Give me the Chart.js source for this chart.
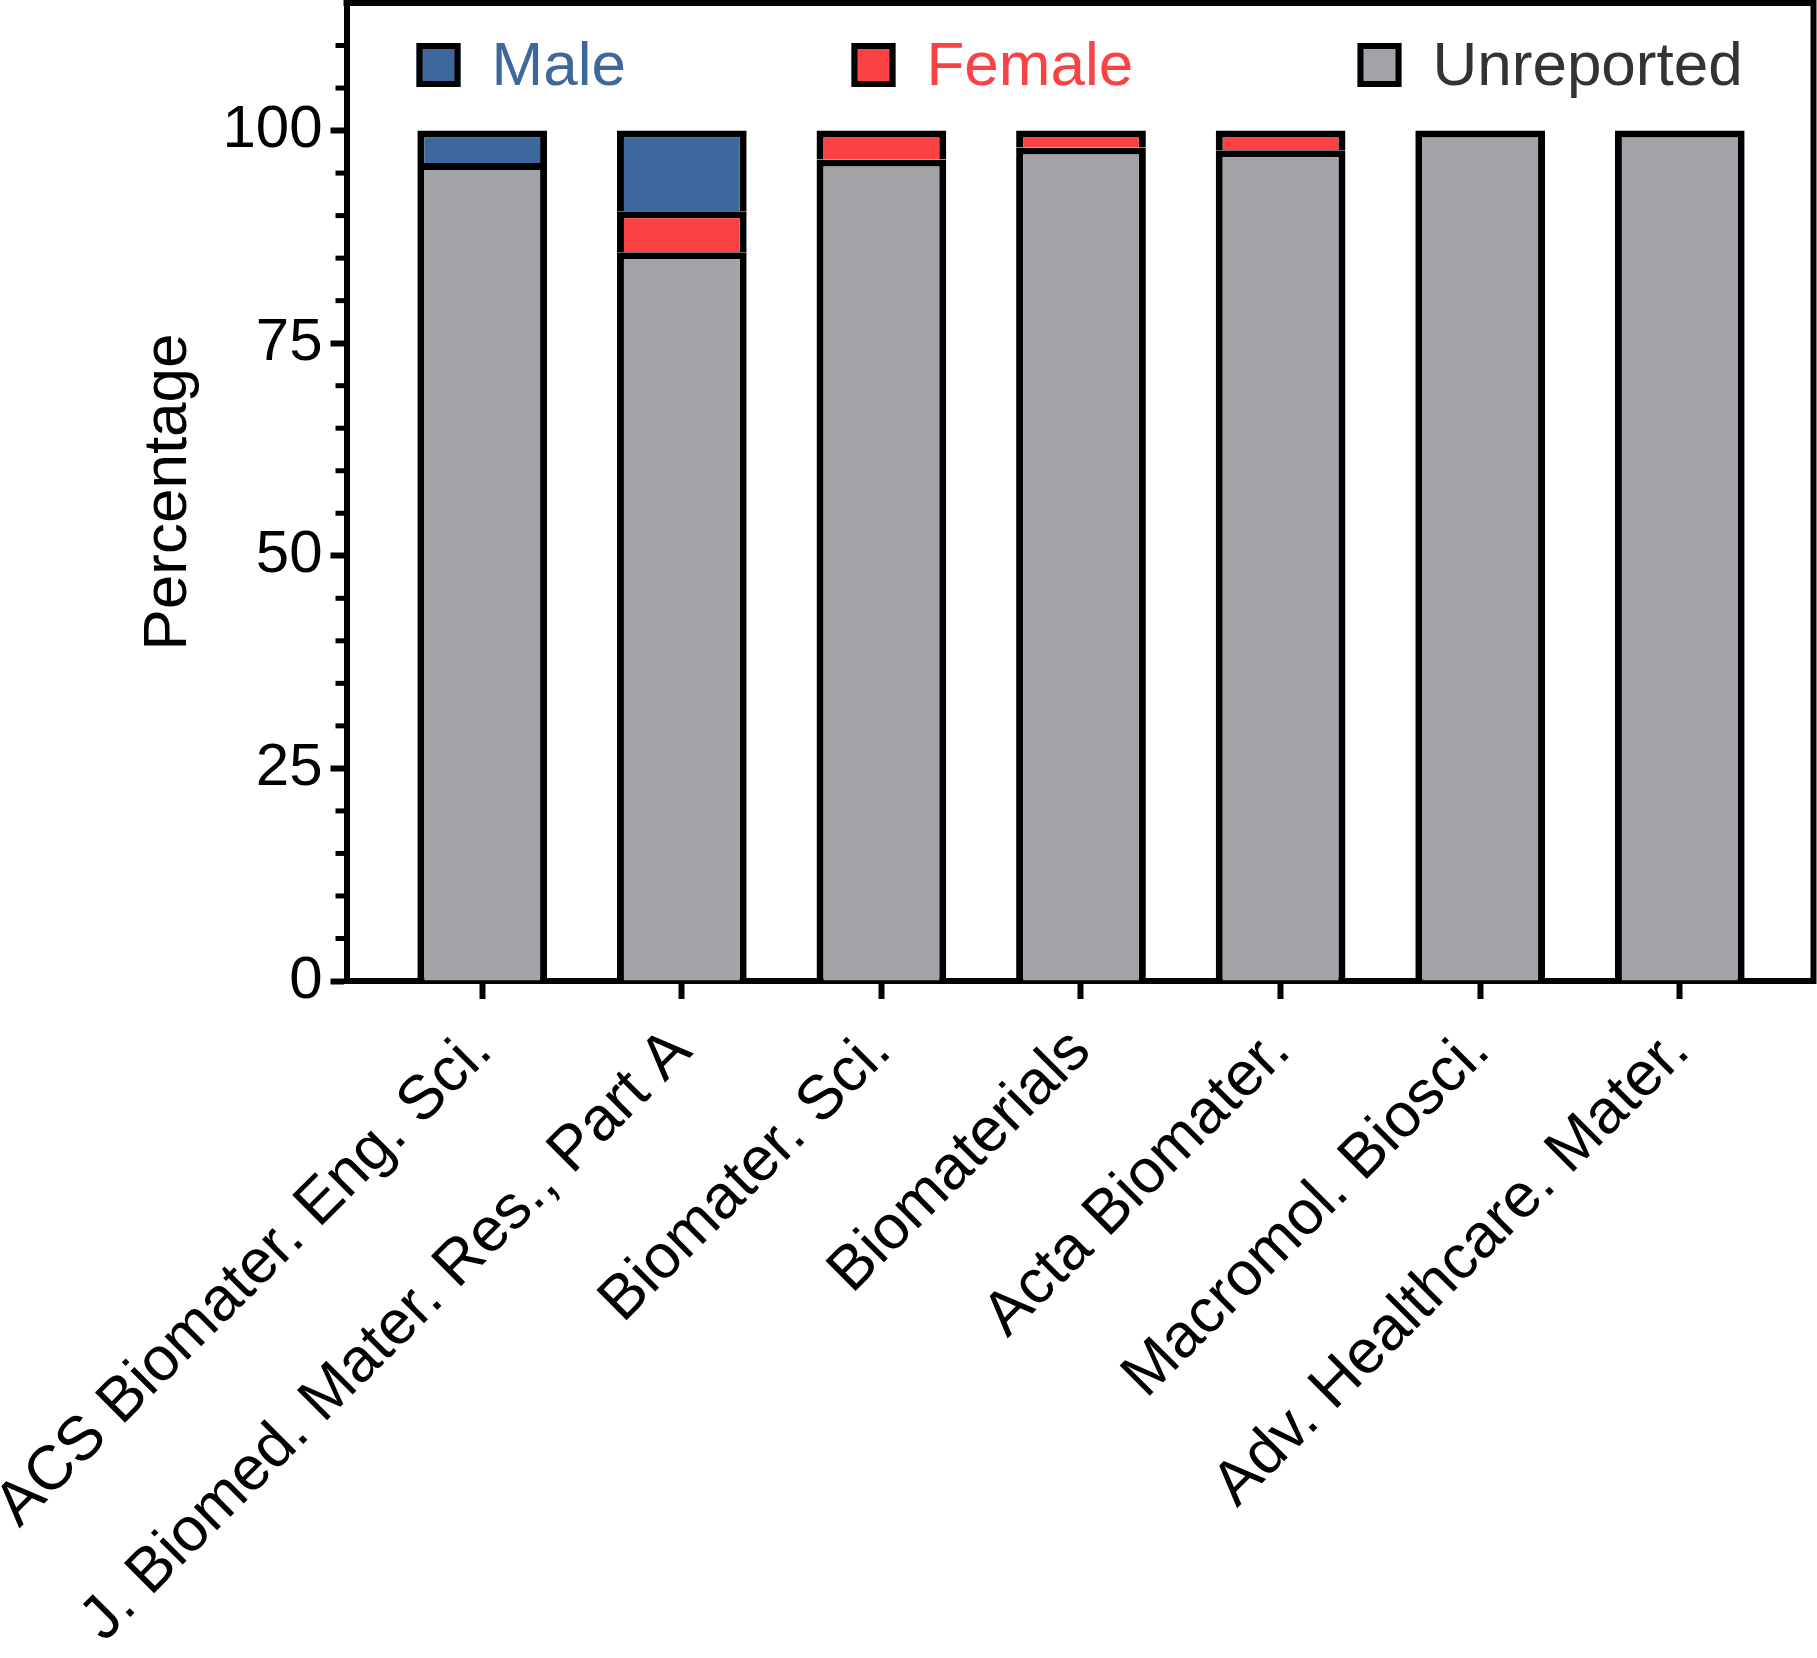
<!DOCTYPE html>
<html>
<head>
<meta charset="utf-8">
<script src="https://cdn.jsdelivr.net/npm/chart.js@4.4.1/dist/chart.umd.min.js"></script>
<style>
  html, body { margin: 0; padding: 0; background: #fff; }
  #wrap { width: 1817px; height: 1658px; position: relative; }
</style>
</head>
<body>
<div id="wrap"><canvas id="chart"></canvas></div>
<script>
// --- Data ---
const categories = [
    'ACS Biomater. Eng. Sci.',
    'J. Biomed. Mater. Res., Part A',
    'Biomater. Sci.',
    'Biomaterials',
    'Acta Biomater.',
    'Macromol. Biosci.',
    'Adv. Healthcare. Mater.'
];
const maleValues = [3.8, 9.5, 0, 0, 0, 0, 0];
const femaleValues = [0, 4.8, 3.4, 2.0, 2.3, 0, 0];
const unreportedValues = [96.2, 85.7, 96.6, 98.0, 97.7, 100, 100];
const yMajorTicks = [0, 25, 50, 75, 100];
const yMinorTicks = [5, 10, 15, 20, 30, 35, 40, 45, 55, 60, 65, 70, 80, 85, 90, 95, 105, 110];

const BLUE = '#3e689d';
const RED = '#fa4245';
const GREY = '#a3a2a7';
const FONT = '"Liberation Sans", Arial, sans-serif';

function toPoints(values) {
    return values.map((v, i) => ({ x: i, y: v }));
}

// legend drawn inside the plot, plus minor ticks and the frame
const extrasPlugin = {
    id: 'extras',
    afterDraw(chart) {
        const ctx = chart.ctx;
        const area = chart.chartArea;
        const y = chart.scales.y;
        ctx.save();
        ctx.strokeStyle = '#000';

        // minor ticks on the y axis
        ctx.lineWidth = 5;
        yMinorTicks.forEach(v => {
            const py = y.getPixelForValue(v);
            ctx.beginPath();
            ctx.moveTo(area.left - 11, py);
            ctx.lineTo(area.left, py);
            ctx.stroke();
        });

        // top and right frame lines
        ctx.lineWidth = 6;
        ctx.beginPath();
        ctx.moveTo(area.left - 3, area.top);
        ctx.lineTo(area.right, area.top);
        ctx.lineTo(area.right, area.bottom + 3);
        ctx.stroke();

        // legend
        const items = [
            { text: 'Male', fill: BLUE, color: BLUE, dx: 70 },
            { text: 'Female', fill: RED, color: RED, dx: 505 },
            { text: 'Unreported', fill: GREY, color: '#333333', dx: 1011 }
        ];
        const box = 44;
        const top = area.top + 40;
        ctx.font = '62px ' + FONT;
        ctx.textBaseline = 'middle';
        ctx.textAlign = 'left';
        items.forEach(it => {
            const bx = area.left + it.dx;
            ctx.fillStyle = it.fill;
            ctx.fillRect(bx, top, box, box);
            ctx.lineWidth = 6;
            ctx.strokeStyle = '#000';
            ctx.strokeRect(bx + 3, top + 3, box - 6, box - 6);
            ctx.fillStyle = it.color;
            ctx.fillText(it.text, bx + box + 31, top + box / 2 + 3);
        });
        ctx.restore();
    }
};

const ctx = document.getElementById('chart').getContext('2d');
new Chart(ctx, {
    type: 'bar',
    data: {
        datasets: [
            { label: 'Unreported', data: toPoints(unreportedValues), backgroundColor: GREY },
            { label: 'Female', data: toPoints(femaleValues), backgroundColor: RED },
            { label: 'Male', data: toPoints(maleValues), backgroundColor: BLUE }
        ]
    },
    options: {
        responsive: true,
        maintainAspectRatio: false,
        animation: false,
        events: [],
        layout: { padding: { top: 3, right: 3.5, left: 0, bottom: 0 } },
        datasets: {
            bar: {
                borderColor: '#000',
                borderWidth: 7,
                barPercentage: 0.65,
                categoryPercentage: 1
            }
        },
        plugins: {
            legend: { display: false },
            tooltip: { enabled: false }
        },
        scales: {
            x: {
                type: 'linear',
                stacked: true,
                offset: false,
                min: -0.68,
                max: 6.67,
                afterBuildTicks: scale => {
                    scale.ticks = categories.map((c, i) => ({ value: i }));
                },
                afterFit: scale => {
                    scale.height = 677;
                    scale.paddingLeft = 0;
                    scale.paddingRight = 0;
                },
                grid: {
                    offset: false,
                    drawOnChartArea: false,
                    drawTicks: true,
                    tickLength: 18,
                    tickWidth: 6,
                    tickColor: '#000'
                },
                border: { display: true, width: 6, color: '#000' },
                ticks: {
                    autoSkip: false,
                    maxRotation: 45,
                    minRotation: 45,
                    padding: 16,
                    color: '#000',
                    font: { family: FONT, size: 62 },
                    callback: v => categories[v]
                }
            },
            y: {
                stacked: true,
                min: 0,
                max: 115,
                afterBuildTicks: scale => {
                    scale.ticks = yMajorTicks.map(v => ({ value: v }));
                },
                afterFit: scale => {
                    scale.width = 346.5;
                    scale.paddingTop = 0;
                    scale.paddingBottom = 0;
                },
                grid: {
                    drawOnChartArea: false,
                    drawTicks: true,
                    tickLength: 16,
                    tickWidth: 6,
                    tickColor: '#000'
                },
                border: { display: true, width: 6, color: '#000' },
                ticks: {
                    padding: 8,
                    color: '#000',
                    font: { family: FONT, size: 60 }
                },
                title: {
                    display: true,
                    text: 'Percentage',
                    color: '#000',
                    font: { family: FONT, size: 62 },
                    padding: { top: 132, bottom: 0 }
                }
            }
        }
    },
    plugins: [extrasPlugin]
});
</script>
</body>
</html>
